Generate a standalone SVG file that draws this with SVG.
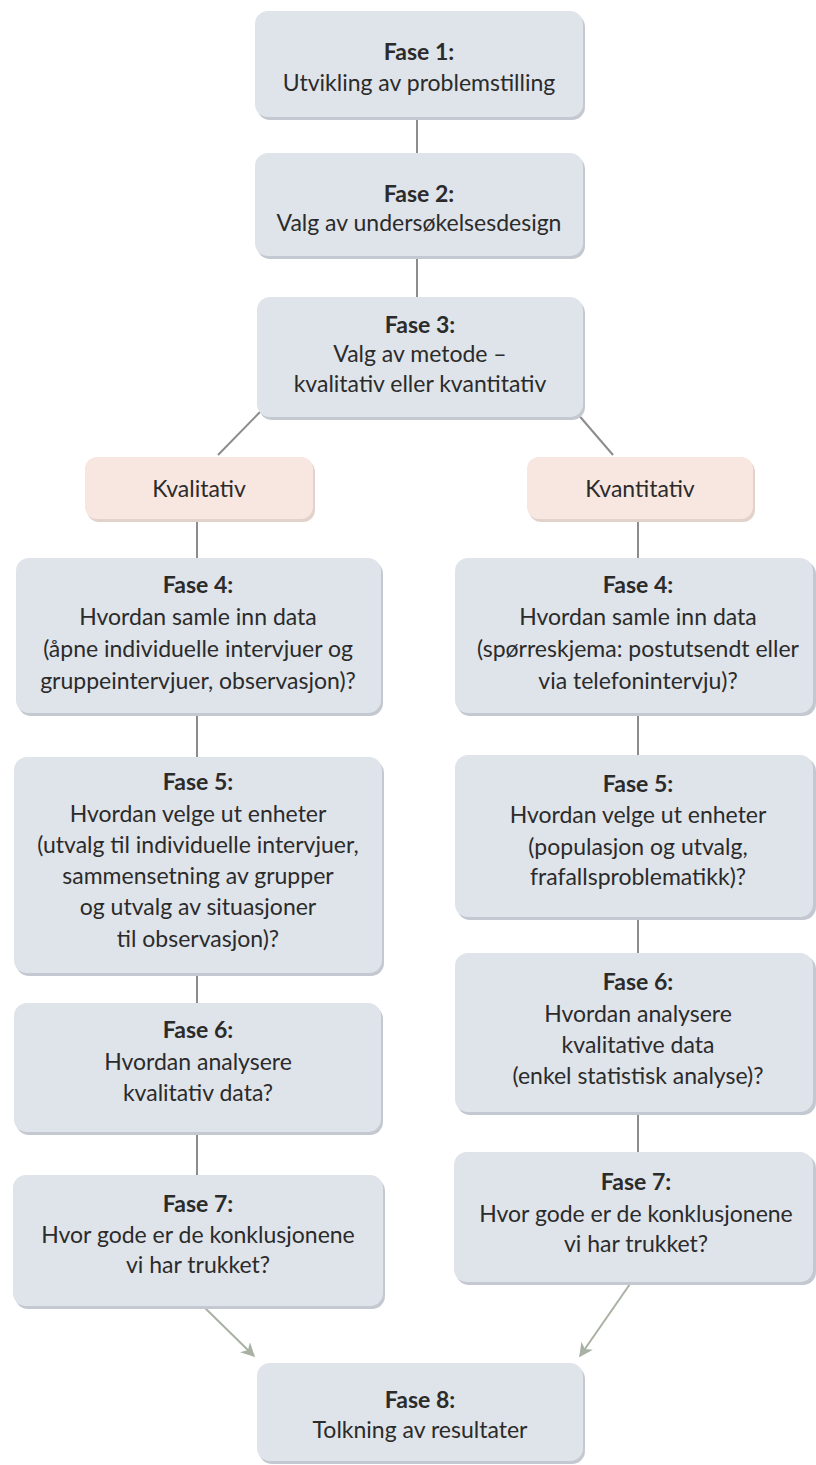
<svg xmlns="http://www.w3.org/2000/svg" width="816" height="1465" viewBox="0 0 816 1465">
<defs>
<style>
.box{fill:#dfe3ea;}
.sh{fill:#c4c9d1;}
.pink{fill:#f8e6e0;}
.psh{fill:#e2d2cc;}
.t{font-family:Lato,"Liberation Sans",sans-serif;font-size:23px;fill:#2b2b2b;text-anchor:middle;}
.b{font-weight:bold;}
.ln{stroke:#8c8c8c;stroke-width:2;fill:none;}
.ar{stroke:#a9b1a3;stroke-width:2;fill:none;}
</style>
<marker id="ah" viewBox="0 0 10 10" refX="9" refY="5" markerWidth="7" markerHeight="7" orient="auto">
<path d="M0,0 L10,5 L0,10 L3,5 z" fill="#a9b1a3"/>
</marker>
</defs>
<rect width="816" height="1465" fill="#ffffff"/>
<g id="connectors">
<line class="ln" x1="417" y1="118" x2="417" y2="153"/>
<line class="ln" x1="417" y1="257" x2="417" y2="297"/>
<line class="ln" x1="260" y1="412" x2="218" y2="455"/>
<line class="ln" x1="576" y1="412" x2="613" y2="455"/>
<line class="ln" x1="197" y1="521" x2="197" y2="558"/>
<line class="ln" x1="638" y1="521" x2="638" y2="558"/>
<line class="ln" x1="197" y1="714" x2="197" y2="757"/>
<line class="ln" x1="638" y1="714" x2="638" y2="755"/>
<line class="ln" x1="197" y1="974" x2="197" y2="1003"/>
<line class="ln" x1="638" y1="918" x2="638" y2="953"/>
<line class="ln" x1="197" y1="1133" x2="197" y2="1175"/>
<line class="ln" x1="638" y1="1113" x2="638" y2="1152"/>
<line class="ar" x1="203" y1="1306" x2="254" y2="1356" marker-end="url(#ah)"/>
<line class="ar" x1="630" y1="1284" x2="580" y2="1356" marker-end="url(#ah)"/>
</g>
<g id="fase1">
<rect class="sh" x="257" y="14" width="328" height="106" rx="13"/>
<rect class="box" x="255" y="11" width="328" height="106" rx="13"/>
<text class="t b" x="419" y="60">Fase 1:</text>
<text class="t" x="419" y="91">Utvikling av problemstilling</text>
</g>
<g id="fase2">
<rect class="sh" x="257" y="156" width="328" height="103" rx="13"/>
<rect class="box" x="255" y="153" width="328" height="103" rx="13"/>
<text class="t b" x="419" y="202">Fase 2:</text>
<text class="t" x="419" y="231">Valg av undersøkelsesdesign</text>
</g>
<g id="fase3">
<rect class="sh" x="259" y="300" width="326" height="120" rx="13"/>
<rect class="box" x="257" y="297" width="326" height="120" rx="13"/>
<text class="t b" x="420" y="333">Fase 3:</text>
<text class="t" x="420" y="362">Valg av metode –</text>
<text class="t" x="420" y="392">kvalitativ eller kvantitativ</text>
</g>
<g id="kvalitativ">
<rect class="psh" x="87" y="460" width="228" height="62" rx="12"/>
<rect class="pink" x="85" y="457" width="228" height="62" rx="12"/>
<text class="t" x="199" y="497">Kvalitativ</text>
</g>
<g id="kvantitativ">
<rect class="psh" x="529" y="460" width="226" height="62" rx="12"/>
<rect class="pink" x="527" y="457" width="226" height="62" rx="12"/>
<text class="t" x="640" y="497">Kvantitativ</text>
</g>
<g id="fase4-kval">
<rect class="sh" x="18" y="561" width="365" height="155" rx="13"/>
<rect class="box" x="16" y="558" width="365" height="155" rx="13"/>
<text class="t b" x="198" y="593">Fase 4:</text>
<text class="t" x="198" y="625">Hvordan samle inn data</text>
<text class="t" x="198" y="657">(åpne individuelle intervjuer og</text>
<text class="t" x="198" y="689">gruppeintervjuer, observasjon)?</text>
</g>
<g id="fase4-kvant">
<rect class="sh" x="457" y="561" width="359" height="155" rx="13"/>
<rect class="box" x="455" y="558" width="358" height="155" rx="13"/>
<text class="t b" x="638" y="593">Fase 4:</text>
<text class="t" x="638" y="625">Hvordan samle inn data</text>
<text class="t" x="638" y="657">(spørreskjema: postutsendt eller</text>
<text class="t" x="638" y="689">via telefonintervju)?</text>
</g>
<g id="fase5-kval">
<rect class="sh" x="16" y="760" width="368" height="216" rx="13"/>
<rect class="box" x="14" y="757" width="368" height="216" rx="13"/>
<text class="t b" x="198" y="790">Fase 5:</text>
<text class="t" x="198" y="822">Hvordan velge ut enheter</text>
<text class="t" x="198" y="853">(utvalg til individuelle intervjuer,</text>
<text class="t" x="198" y="884">sammensetning av grupper</text>
<text class="t" x="198" y="915">og utvalg av situasjoner</text>
<text class="t" x="198" y="947">til observasjon)?</text>
</g>
<g id="fase5-kvant">
<rect class="sh" x="457" y="758" width="359" height="162" rx="13"/>
<rect class="box" x="455" y="755" width="358" height="162" rx="13"/>
<text class="t b" x="638" y="792">Fase 5:</text>
<text class="t" x="638" y="823">Hvordan velge ut enheter</text>
<text class="t" x="638" y="855">(populasjon og utvalg,</text>
<text class="t" x="638" y="885">frafallsproblematikk)?</text>
</g>
<g id="fase6-kval">
<rect class="sh" x="16" y="1006" width="367" height="129" rx="13"/>
<rect class="box" x="14" y="1003" width="367" height="129" rx="13"/>
<text class="t b" x="198" y="1038">Fase 6:</text>
<text class="t" x="198" y="1070">Hvordan analysere</text>
<text class="t" x="198" y="1101">kvalitativ data?</text>
</g>
<g id="fase6-kvant">
<rect class="sh" x="457" y="956" width="359" height="159" rx="13"/>
<rect class="box" x="455" y="953" width="358" height="159" rx="13"/>
<text class="t b" x="638" y="990">Fase 6:</text>
<text class="t" x="638" y="1022">Hvordan analysere</text>
<text class="t" x="638" y="1053">kvalitative data</text>
<text class="t" x="638" y="1084">(enkel statistisk analyse)?</text>
</g>
<g id="fase7-kval">
<rect class="sh" x="15" y="1178" width="370" height="131" rx="13"/>
<rect class="box" x="13" y="1175" width="370" height="131" rx="13"/>
<text class="t b" x="198" y="1212">Fase 7:</text>
<text class="t" x="198" y="1243">Hvor gode er de konklusjonene</text>
<text class="t" x="198" y="1273">vi har trukket?</text>
</g>
<g id="fase7-kvant">
<rect class="sh" x="456" y="1155" width="360" height="130" rx="13"/>
<rect class="box" x="454" y="1152" width="359" height="130" rx="13"/>
<text class="t b" x="636" y="1190">Fase 7:</text>
<text class="t" x="636" y="1222">Hvor gode er de konklusjonene</text>
<text class="t" x="636" y="1252">vi har trukket?</text>
</g>
<g id="fase8">
<rect class="sh" x="259" y="1366" width="326" height="98" rx="13"/>
<rect class="box" x="257" y="1363" width="326" height="98" rx="13"/>
<text class="t b" x="420" y="1408">Fase 8:</text>
<text class="t" x="420" y="1438">Tolkning av resultater</text>
</g>
</svg>
